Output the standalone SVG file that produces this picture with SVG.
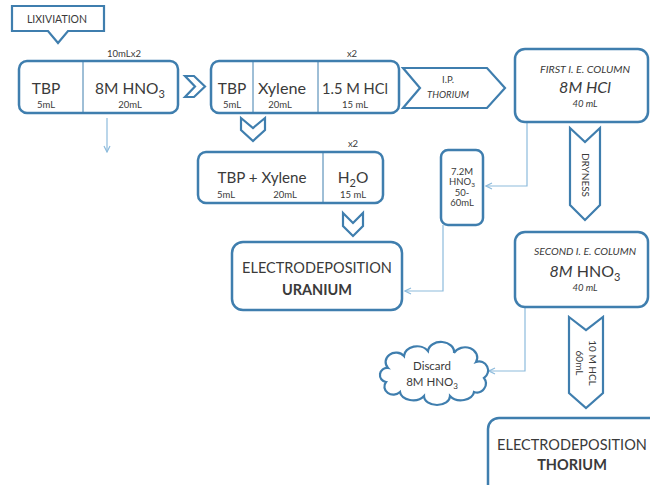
<svg xmlns="http://www.w3.org/2000/svg" width="650" height="485" viewBox="0 0 650 485">
<defs>
<style>
.box{fill:#fff;stroke:#3f7eae;stroke-width:2.5}
.shape{fill:#fff;stroke:#3f7eae;stroke-width:2.2;stroke-linejoin:miter}
.div{stroke:#3f7eae;stroke-width:1}
.thin{fill:none;stroke:#8dbbdc;stroke-width:1.2}
text{font-family:Lato,"Open Sans","Liberation Sans",sans-serif;fill:#3a3a3a;text-anchor:middle}
.big{font-size:15.5px}
.sm{font-size:9.5px}
.xs{font-size:9.5px}
.it{font-style:italic}
.b{font-weight:bold}
</style>
<marker id="ah" markerWidth="8" markerHeight="8" refX="7" refY="4" orient="auto" markerUnits="userSpaceOnUse">
<path d="M1,1 L7,4 L1,7" fill="none" stroke="#8dbbdc" stroke-width="1.2"/>
</marker>
</defs>

<g id="connectors">
<line class="thin" x1="107" y1="118" x2="107" y2="152" marker-end="url(#ah)"/>
<path class="thin" d="M527,122 V186 H486" marker-end="url(#ah)"/>
<path class="thin" d="M443,225 V291 H405" marker-end="url(#ah)"/>
<path class="thin" d="M525,307 V371 H489" marker-end="url(#ah)"/>
<path class="shape" d="M185,76 L194,76 L205,86.5 L194,97 L185,97 L195,86.5 Z"/>
<path class="shape" d="M241,118 L253,128 L265,118 L265,130 L253,141 L241,130 Z"/>
<path class="shape" d="M343,213 L353,223 L363,213 L363,226 L353,236 L343,226 Z"/>
</g>

<g id="lixiviation">
<path class="shape" d="M12,6 H104 V31 H68 L58,43 L48,31 H12 Z"/>
<text x="57" y="23" style="font-size:10.5px">LIXIVIATION</text>
</g>

<g id="box1">
<rect class="box" x="19" y="61" width="159" height="52" rx="8"/>
<line class="div" x1="83" y1="61" x2="83" y2="113"/>
<text x="124" y="57" class="sm">10mLx2</text>
<text x="46" y="94" class="big">TBP</text>
<text x="46" y="108" class="xs">5mL</text>
<text x="130" y="94" class="big">8M HNO<tspan dy="4" style="font-size:11px">3</tspan></text>
<text x="130" y="108" class="xs">20mL</text>
</g>

<g id="box2">
<rect class="box" x="211" y="61" width="188" height="52" rx="8"/>
<line class="div" x1="253" y1="61" x2="253" y2="113"/>
<line class="div" x1="318" y1="61" x2="318" y2="113"/>
<text x="352" y="57" class="sm">x2</text>
<text x="232" y="94" class="big">TBP</text>
<text x="232" y="108" class="xs">5mL</text>
<text x="282" y="94" class="big" textLength="48" lengthAdjust="spacingAndGlyphs">Xylene</text>
<text x="280" y="108" class="xs">20mL</text>
<text x="355" y="94" class="big" textLength="66" lengthAdjust="spacingAndGlyphs">1.5 M HCl</text>
<text x="355" y="108" class="xs">15 mL</text>
</g>

<g id="ip-thorium">
<path class="shape" d="M403,68 L487,68 L505,88 L487,108 L403,108 L420,88 Z"/>
<text x="448" y="83" style="font-size:9.5px">I.P.</text>
<text x="448" y="98" class="it" style="font-size:9.5px">THORIUM</text>
</g>

<g id="first-ie">
<rect class="box" x="515" y="49" width="133" height="73" rx="10"/>
<text x="585" y="73" class="it" style="font-size:10px" textLength="90" lengthAdjust="spacingAndGlyphs">FIRST I. E. COLUMN</text>
<text x="585" y="93" class="it" style="font-size:16px">8M HCl</text>
<text x="585" y="107" class="it" style="font-size:9.5px">40 mL</text>
</g>

<g id="dryness">
<path class="shape" d="M570,128 L585,142 L600,128 L600,205 L585,220 L570,205 Z"/>
<text transform="translate(581.5,175) rotate(90)" style="font-size:10px">DRYNESS</text>
</g>

<g id="box3">
<rect class="box" x="198" y="152" width="185" height="51" rx="8"/>
<line class="div" x1="323" y1="152" x2="323" y2="203"/>
<text x="353" y="147" class="sm">x2</text>
<text x="262" y="183" class="big" textLength="89" lengthAdjust="spacingAndGlyphs">TBP + Xylene</text>
<text x="226" y="198" class="xs">5mL</text>
<text x="285" y="198" class="xs">20mL</text>
<text x="353" y="183" class="big">H<tspan dy="4" style="font-size:11px">2</tspan><tspan dy="-4">O</tspan></text>
<text x="353" y="198" class="xs">15 mL</text>
</g>

<g id="reagent-72m">
<rect class="box" x="441" y="150" width="42" height="75" rx="7"/>
<text x="462" y="175" class="xs">7.2M</text>
<text x="462" y="185" class="xs">HNO<tspan dy="2" style="font-size:6.5px">3</tspan></text>
<text x="462" y="196" class="xs">50-</text>
<text x="462" y="206" class="xs">60mL</text>
</g>

<g id="uranium">
<rect class="box" x="232" y="242" width="170" height="68" rx="11"/>
<text x="317" y="273" style="font-size:14.5px">ELECTRODEPOSITION</text>
<text x="317" y="295" class="b" style="font-size:14.5px">URANIUM</text>
</g>

<g id="second-ie">
<rect class="box" x="515" y="232" width="133" height="75" rx="10"/>
<text x="585" y="255" class="it" style="font-size:10px" textLength="102" lengthAdjust="spacingAndGlyphs">SECOND I. E. COLUMN</text>
<text x="585" y="277" style="font-size:16px"><tspan class="it">8M</tspan> HNO<tspan dy="4" style="font-size:11px">3</tspan></text>
<text x="585" y="291" class="it" style="font-size:9.5px">40 mL</text>
</g>

<g id="hcl-10m">
<path class="shape" d="M569,317 L586,330 L603,317 L603,393 L586,408 L569,393 Z"/>
<text transform="translate(589,363) rotate(90)" style="font-size:10px">10 M HCL</text>
<text transform="translate(576,363) rotate(90)" style="font-size:10px">60mL</text>
</g>

<g id="discard">
<path class="shape" d="M388,368 A10,9 0 0 1 404,356 A13,10 0 0 1 428,351 A13,10 0 0 1 454,353 A12,10 0 0 1 476,362 A9,9 0 0 1 484,378 A9,9 0 0 1 474,392 A13,9 0 0 1 450,396 A13,9 0 0 1 424,396 A13,9 0 0 1 400,392 A9,8 0 0 1 386,382 A7,7 0 0 1 388,368 Z"/>
<text x="432" y="370" style="font-size:11.5px">Discard</text>
<text x="432" y="386" style="font-size:11.5px">8M HNO<tspan dy="3" style="font-size:8px">3</tspan></text>
</g>

<g id="thorium">
<rect class="box" x="488" y="418" width="172" height="80" rx="11"/>
<text x="572" y="450" style="font-size:14.5px">ELECTRODEPOSITION</text>
<text x="572" y="470" class="b" style="font-size:14.5px">THORIUM</text>
</g>
</svg>
